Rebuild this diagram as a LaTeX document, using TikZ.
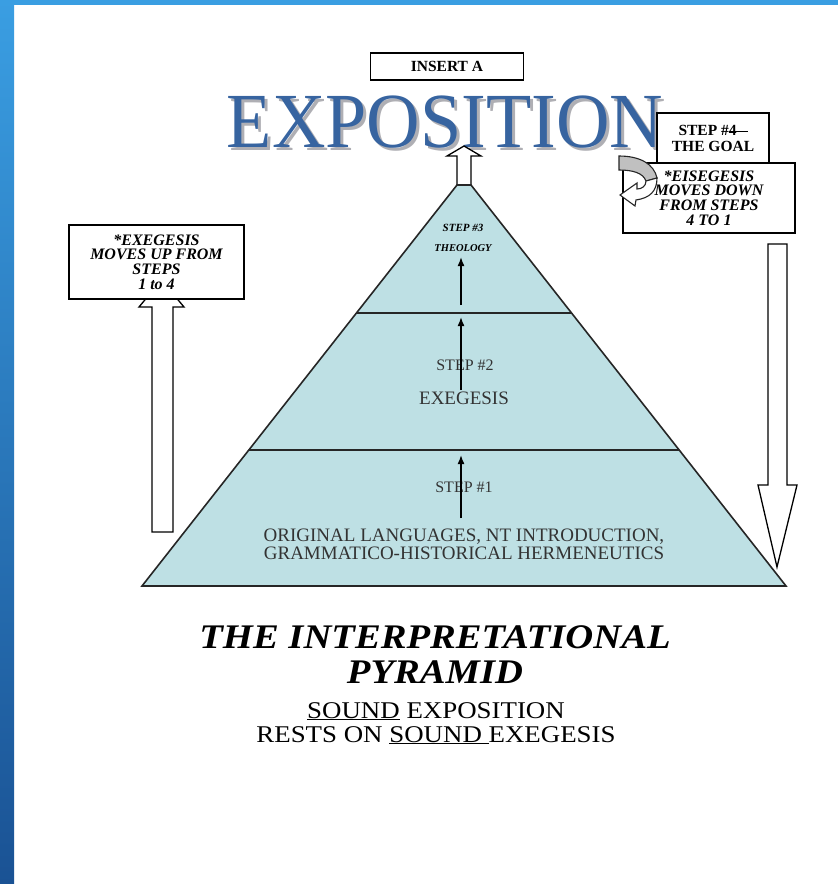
\documentclass[tikz,border=0pt]{standalone}
\usepackage{fontspec}
\setmainfont{Liberation Serif}
\usetikzlibrary{arrows.meta,calc}
\definecolor{pyrfill}{RGB}{190,224,228}
\definecolor{expblue}{RGB}{55,100,160}
\definecolor{expshade}{RGB}{175,175,180}
\definecolor{stripetop}{RGB}{58,158,226}
\definecolor{stripebot}{RGB}{26,82,148}
\definecolor{curlgray}{RGB}{192,192,192}
\tikzset{my box/.style={draw, line width=1.2, fill=white, align=center, inner sep=0pt},
  box font/.style={font=\fontsize{16}{14.7}\selectfont\bfseries\itshape},
  step text/.style={font=\fontsize{16}{18}\selectfont, text=black!80},
  step arrow/.style={-{Latex[length=9,width=7]}, line width=1.6},
  block arrow/.style={draw, line width=1.3, fill=white, line join=miter},
  layer line/.style={line width=1.6, black!85},}

\begin{document}
\begin{tikzpicture}[x=1pt,y=-1pt]
\useasboundingbox (0,0) rectangle (838,884);
\fill [white] (0,0) rectangle (838,884);
\shade [top color=stripetop, bottom color=stripebot] (0,0) rectangle (14,884);
\fill [stripetop] (0,0) rectangle (838,5);

\node [my box, minimum width=153, minimum height=27, font=\fontsize{15.5}{16}\selectfont\bfseries] (insert) at (447,66.5) {INSERT A};
\node [anchor=base, xscale=0.95, font=\fontsize{78}{78}\selectfont, text=expshade] (expshadow) at (448,150) {EXPOSITION};
\node [anchor=base, xscale=0.95, font=\fontsize{78}{78}\selectfont, text=expblue] (exposition) at (445,147) {EXPOSITION};

\draw [block arrow] (464,146) -- (481,156) -- (471,156) -- (471,185) -- (457,185) -- (457,156) -- (447,156) -- cycle;

\coordinate (apexl) at (457,185);
\coordinate (apexr) at (471,185);
\coordinate (basel) at (142,586);
\coordinate (baser) at (786,586);
\filldraw [fill=pyrfill, draw=black!85, line width=1.6, line join=miter] (apexl) -- (apexr) -- (baser) -- (basel) -- cycle;
\draw [layer line] ($(apexl)!0.319!(basel)$) -- ($(apexr)!0.319!(baser)$);
\draw [layer line] ($(apexl)!0.661!(basel)$) -- ($(apexr)!0.661!(baser)$);

\node [font=\fontsize{11}{12}\selectfont\bfseries\itshape] (step3) at (463,228) {STEP \#3};
\node [font=\fontsize{10.5}{12}\selectfont\bfseries\itshape] (theology) at (463,248) {THEOLOGY};
\node [step text] (step2) at (465,365) {STEP \#2};
\node [step text, font=\fontsize{19}{18}\selectfont] (exegesis) at (464,398) {EXEGESIS};
\node [step text] (step1) at (464,487) {STEP \#1};
\node [step text, align=center, font=\fontsize{19}{18}\selectfont] (languages) at (464,544) {ORIGINAL LANGUAGES, NT INTRODUCTION,\\GRAMMATICO-HISTORICAL HERMENEUTICS};

\coordinate (a3s) at (461,305); \coordinate (a3e) at (461,257);
\coordinate (a2s) at (461,390); \coordinate (a2e) at (461,317);
\coordinate (a1s) at (461,518); \coordinate (a1e) at (461,455);
\draw [step arrow] (a3s) -- (a3e);
\draw [step arrow] (a2s) -- (a2e);
\draw [step arrow] (a1s) -- (a1e);

\draw [block arrow] (161.5,280) -- (184,307) -- (173,307) -- (173,532) -- (152,532) -- (152,307) -- (139,307) -- cycle;
\node [my box, box font, minimum width=175, minimum height=74] (exegbox) at (156.5,262) {*EXEGESIS\\MOVES UP FROM\\STEPS\\1 to 4};

\node [my box, minimum width=112, minimum height=50, font=\fontsize{15.5}{16}\selectfont\bfseries] (goal) at (713,138) {STEP \#4\kern-0.5em\rule[0.22em]{1.2em}{0.07em}\\THE GOAL};
\node [my box, box font, minimum width=172, minimum height=70] (eisbox) at (709,198) {*EISEGESIS\\MOVES DOWN\\FROM STEPS\\4 TO 1};
\filldraw [fill=curlgray, draw=black!85, line width=1.1] (619,156) .. controls (640,156) and (654,164) .. (657,178) -- (646,181) .. controls (643,173) and (633,170) .. (619,170) -- cycle;
\filldraw [fill=white, draw=black!85, line width=1.1, line join=miter] (646,181) .. controls (646,186) and (642,189) .. (637,189) -- (637,183) -- (620,195) -- (635,206) -- (636,200) .. controls (650,198) and (657,191) .. (657,178) -- cycle;

\draw [block arrow] (768,244) -- (787,244) -- (787,485) -- (797,485) -- (777,567) -- (758,485) -- (768,485) -- cycle;

\node [anchor=base, xscale=1.12, font=\fontsize{34.5}{36}\selectfont\bfseries\itshape] (title1) at (435,648) {THE INTERPRETATIONAL};
\node [anchor=base, xscale=1.12, font=\fontsize{34.5}{36}\selectfont\bfseries\itshape] (title2) at (435,683) {PYRAMID};
\node [anchor=base, xscale=1.12, font=\fontsize{24}{24}\selectfont] (sound1) at (436,718) {\underline{SOUND} EXPOSITION};
\node [anchor=base, xscale=1.12, font=\fontsize{24}{24}\selectfont] (sound2) at (436,742) {RESTS ON \underline{SOUND\ }EXEGESIS};
\end{tikzpicture}
\end{document}
